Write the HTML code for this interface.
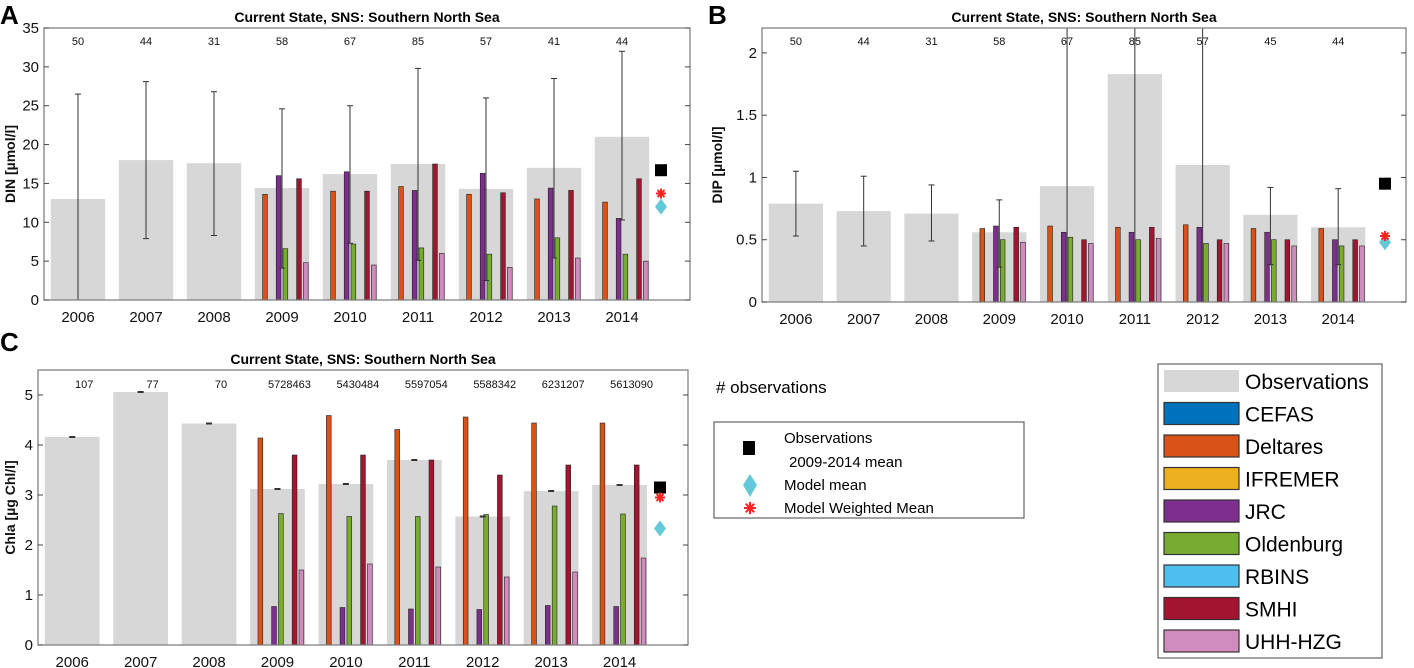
<!DOCTYPE html>
<html><head><meta charset="utf-8"><style>
html,body{margin:0;padding:0;background:#fff;}
svg{display:block;font-family:"Liberation Sans",Arial,sans-serif;}
</style></head><body>
<svg id="fig" width="1414" height="668" viewBox="0 0 1414 668"></svg>
<script>
const years = ["2006","2007","2008","2009","2010","2011","2012","2013","2014"];
const modelNames = ["CEFAS","Deltares","IFREMER","JRC","Oldenburg","RBINS","SMHI","UHH-HZG"];
const modelColors = ["#0072bd","#d95319","#edb120","#7e2f8e","#77ac30","#4dbeee","#a2142f","#d08bbf"];
// DIN
const dinObs = [13,18,17.6,14.4,16.2,17.5,14.3,17,21];
const dinLo = [0,7.9,8.3,4.1,7.3,5.1,2.5,5.4,10.3];
const dinHi = [26.5,28.1,26.8,24.6,25,29.8,26,28.5,32];
const dinCounts = ["50","44","31","58","67","85","57","41","44"];
const dinDeltares = [13.6,14,14.6,13.6,13,12.6];
const dinJRC = [16,16.5,14.1,16.3,14.4,10.5];
const dinOld = [6.6,7.2,6.7,5.9,8,5.9];
const dinSMHI = [15.6,14,17.5,13.8,14.1,15.6];
const dinUHH = [4.8,4.5,6,4.2,5.4,5];
const dinMarkers = [16.7,12,13.7];
const dinTicks = [0,5,10,15,20,25,30,35];
// DIP
const dipObs = [0.79,0.73,0.71,0.56,0.93,1.83,1.1,0.70,0.60];
const dipLo = [0.53,0.45,0.49,0.28,0,0,0,0.3,0.3];
const dipHi = [1.05,1.01,0.94,0.82,3,4,3,0.92,0.91];
const dipCounts = ["50","44","31","58","67","85","57","45","44"];
const dipDeltares = [0.59,0.61,0.60,0.62,0.59,0.59];
const dipJRC = [0.61,0.56,0.56,0.60,0.56,0.50];
const dipOld = [0.50,0.52,0.50,0.47,0.50,0.45];
const dipSMHI = [0.60,0.50,0.60,0.50,0.50,0.50];
const dipUHH = [0.48,0.47,0.51,0.47,0.45,0.45];
const dipMarkers = [0.95,0.48,0.53];
const dipTicks = [0,0.5,1,1.5,2];
// Chla
const chlObs = [4.16,5.06,4.43,3.12,3.22,3.7,2.57,3.08,3.2];
const chlLo = [4.15,5.05,4.42,3.11,3.21,3.69,2.56,3.07,3.19];
const chlHi = [4.17,5.07,4.44,3.13,3.23,3.71,2.58,3.09,3.21];
const chlCounts = ["107","77","70","5728463","5430484","5597054","5588342","6231207","5613090"];
const chlDeltares = [4.14,4.59,4.31,4.56,4.44,4.44];
const chlJRC = [0.77,0.75,0.72,0.71,0.79,0.77];
const chlOld = [2.63,2.57,2.57,2.61,2.78,2.62];
const chlSMHI = [3.8,3.8,3.7,3.4,3.6,3.6];
const chlUHH = [1.5,1.62,1.56,1.36,1.46,1.74];
const chlMarkers = [3.15,2.33,2.95];
const chlTicks = [0,1,2,3,4,5];

const NS="http://www.w3.org/2000/svg";
const svg=document.getElementById('fig');
function el(tag,attrs,parent,text){const e=document.createElementNS(NS,tag);for(const k in attrs)e.setAttribute(k,attrs[k]);if(text!==undefined)e.textContent=text;(parent||svg).appendChild(e);return e;}
function asterisk(g,x,y,r){
  const a=el('g',{stroke:'#f22','stroke-width':2},g);
  for(let k=0;k<4;k++){const an=k*Math.PI/4;el('line',{x1:x-r*Math.cos(an),y1:y-r*Math.sin(an),x2:x+r*Math.cos(an),y2:y+r*Math.sin(an)},a);}
  return a;
}

function panel(p){
  const g=el('g',{});
  
  
  const xs=v=>p.x0+(v-0.5)*(p.x1-p.x0)/9.5;
  const ys=v=>p.yb-v*(p.yb-p.yt)/p.ymax;
  const ux=(p.x1-p.x0)/9.5;
  el('rect',{x:p.x0,y:p.yt,width:p.x1-p.x0,height:p.yb-p.yt,fill:'#fff'},g);
  p.obs.forEach((v,i)=>{
    const r=el('rect',{x:xs(i+1)-0.4*ux,y:ys(v),width:0.8*ux,height:p.yb-ys(v),fill:'#d6d7d6'},g);
    
    
  });
  const series=[[1,p.del],[3,p.jrc],[4,p.old],[6,p.smhi],[7,p.uhh]];
  series.forEach(([k,arr])=>{
    arr.forEach((v,j)=>{
      const cx=xs(j+4)+(k+1-4.5)*0.1*ux;
      const r=el('rect',{x:cx-0.035*ux,y:ys(v),width:0.07*ux,height:p.yb-ys(v),fill:modelColors[k],stroke:'#222','stroke-width':0.6},g);
      
      
    });
  });
  p.lo.forEach((lo,i)=>{
    const hi=p.hi[i];
    const cx=xs(i+1);
    const top=Math.max(ys(hi),p.yt), bot=Math.min(ys(lo),p.yb);
    const l=el('line',{x1:cx,x2:cx,y1:top,y2:bot,stroke:'#333','stroke-width':1},g);
    
    
    if(p.hi[i]<=p.ymax) el('line',{x1:cx-3,x2:cx+3,y1:ys(p.hi[i]),y2:ys(p.hi[i]),stroke:'#333'},g);
    if(lo>0) el('line',{x1:cx-3,x2:cx+3,y1:ys(lo),y2:ys(lo),stroke:'#333'},g);
  });
  p.counts.forEach((c,i)=>{
    const t=el('text',{x:xs(i+1)+(p.cshift||0),y:p.cy,'font-size':11,'text-anchor':'middle',fill:'#111'},g,c);
    
    
  });
  const mx=xs(10)-(p.mshift||0);
  const sq=el('rect',{x:mx-6,y:ys(p.markers[0])-6,width:12,height:12,fill:'#000'},g);
  
  
  const dy=ys(p.markers[1]);
  const dm=el('polygon',{points:`${mx},${dy-8} ${mx+6},${dy} ${mx},${dy+8} ${mx-6},${dy}`,fill:'#63c9d8'},g);
  
  
  const st=asterisk(g,mx,ys(p.markers[2]),5);
  
  
  el('rect',{x:p.x0,y:p.yt,width:p.x1-p.x0,height:p.yb-p.yt,fill:'none',stroke:'#777','stroke-width':1.2},g);
  p.ticks.forEach(t=>{
    const y=ys(t);
    el('line',{x1:p.x0,x2:p.x0+5,y1:y,y2:y,stroke:'#444'},g);
    el('line',{x1:p.x1,x2:p.x1-5,y1:y,y2:y,stroke:'#444'},g);
    const tl=el('text',{x:p.x0-5,y:y+5,'font-size':15,'text-anchor':'end',fill:'#111'},g,String(t));
    
    
  });
  years.forEach((yr,i)=>{
    const t=el('text',{x:xs(i+1),y:p.yb+22,'font-size':15,'text-anchor':'middle',fill:'#111'},g,yr);
    
    
  });
  const tt=el('text',{x:(p.x0+p.x1)/2,y:p.yt-6,'font-size':14,'font-weight':'bold','text-anchor':'middle',fill:'#000'},g,'Current State, SNS: Southern North Sea');
  
  
  const yl=el('text',{x:0,y:0,'font-size':14,'font-weight':'bold','text-anchor':'middle',fill:'#111',transform:`translate(${p.ylx},${(p.yt+p.yb)/2}) rotate(-90)`},g,p.ylabel);
  
  
  const pl=el('text',{x:p.lx,y:p.ly,'font-size':26,'font-weight':'bold',fill:'#000'},g,p.letter);
  
  
}

panel({id:'din',letter:'A',lx:0,ly:24,x0:44,x1:690,yt:28,yb:300,ymax:35,ticks:dinTicks,obs:dinObs,lo:dinLo,hi:dinHi,counts:dinCounts,cy:45,
  del:dinDeltares,jrc:dinJRC,old:dinOld,smhi:dinSMHI,uhh:dinUHH,markers:dinMarkers,ylabel:'DIN [µmol/l]',ylx:15,mshift:29});
panel({id:'dip',letter:'B',lx:708,ly:24,x0:762,x1:1406,yt:28,yb:302,ymax:2.2,ticks:dipTicks,obs:dipObs,lo:dipLo,hi:dipHi,counts:dipCounts,cy:45,
  del:dipDeltares,jrc:dipJRC,old:dipOld,smhi:dipSMHI,uhh:dipUHH,markers:dipMarkers,ylabel:'DIP [µmol/l]',ylx:722,mshift:21});
panel({id:'chla',letter:'C',lx:0,ly:351,x0:38,x1:688,yt:370,yb:645,ymax:5.5,ticks:chlTicks,obs:chlObs,lo:chlLo,hi:chlHi,counts:chlCounts,cy:388,cshift:12,
  del:chlDeltares,jrc:chlJRC,old:chlOld,smhi:chlSMHI,uhh:chlUHH,markers:chlMarkers,ylabel:'Chla [µg Chl/l]',ylx:15,mshift:28});

const no=el('text',{x:716,y:393,'font-size':17,fill:'#000'},svg,'# observations');


const lg=el('g',{});


el('rect',{x:714,y:422,width:310,height:96,fill:'#fff',stroke:'#444'},lg);
el('rect',{x:743,y:441,width:12,height:14,fill:'#000'},lg);
el('text',{x:784,y:443,'font-size':15},lg,'Observations');
el('text',{x:789,y:467,'font-size':15},lg,'2009-2014 mean');
el('polygon',{points:'750,474 757,485 750,497 743,485',fill:'#63c9d8'},lg);
el('text',{x:784,y:490,'font-size':15},lg,'Model mean');
asterisk(lg,750,508,6);
el('text',{x:784,y:513,'font-size':15},lg,'Model Weighted Mean');
const ml=el('g',{});


el('rect',{x:1158,y:364,width:224,height:294,fill:'#fff',stroke:'#444'},ml);
const labels=['Observations'].concat(modelNames);
const cols=['#d6d7d6'].concat(modelColors);
labels.forEach((lab,i)=>{
  const cy=381+i*32.5;
  el('rect',{x:1164,y:cy-11,width:75,height:22,fill:cols[i],stroke:i?'#333':'none','stroke-width':1.2},ml);
  const t=el('text',{x:1245,y:cy+8,'font-size':21,fill:'#000'},ml,lab);
  
  
});
</script>
</body></html>
